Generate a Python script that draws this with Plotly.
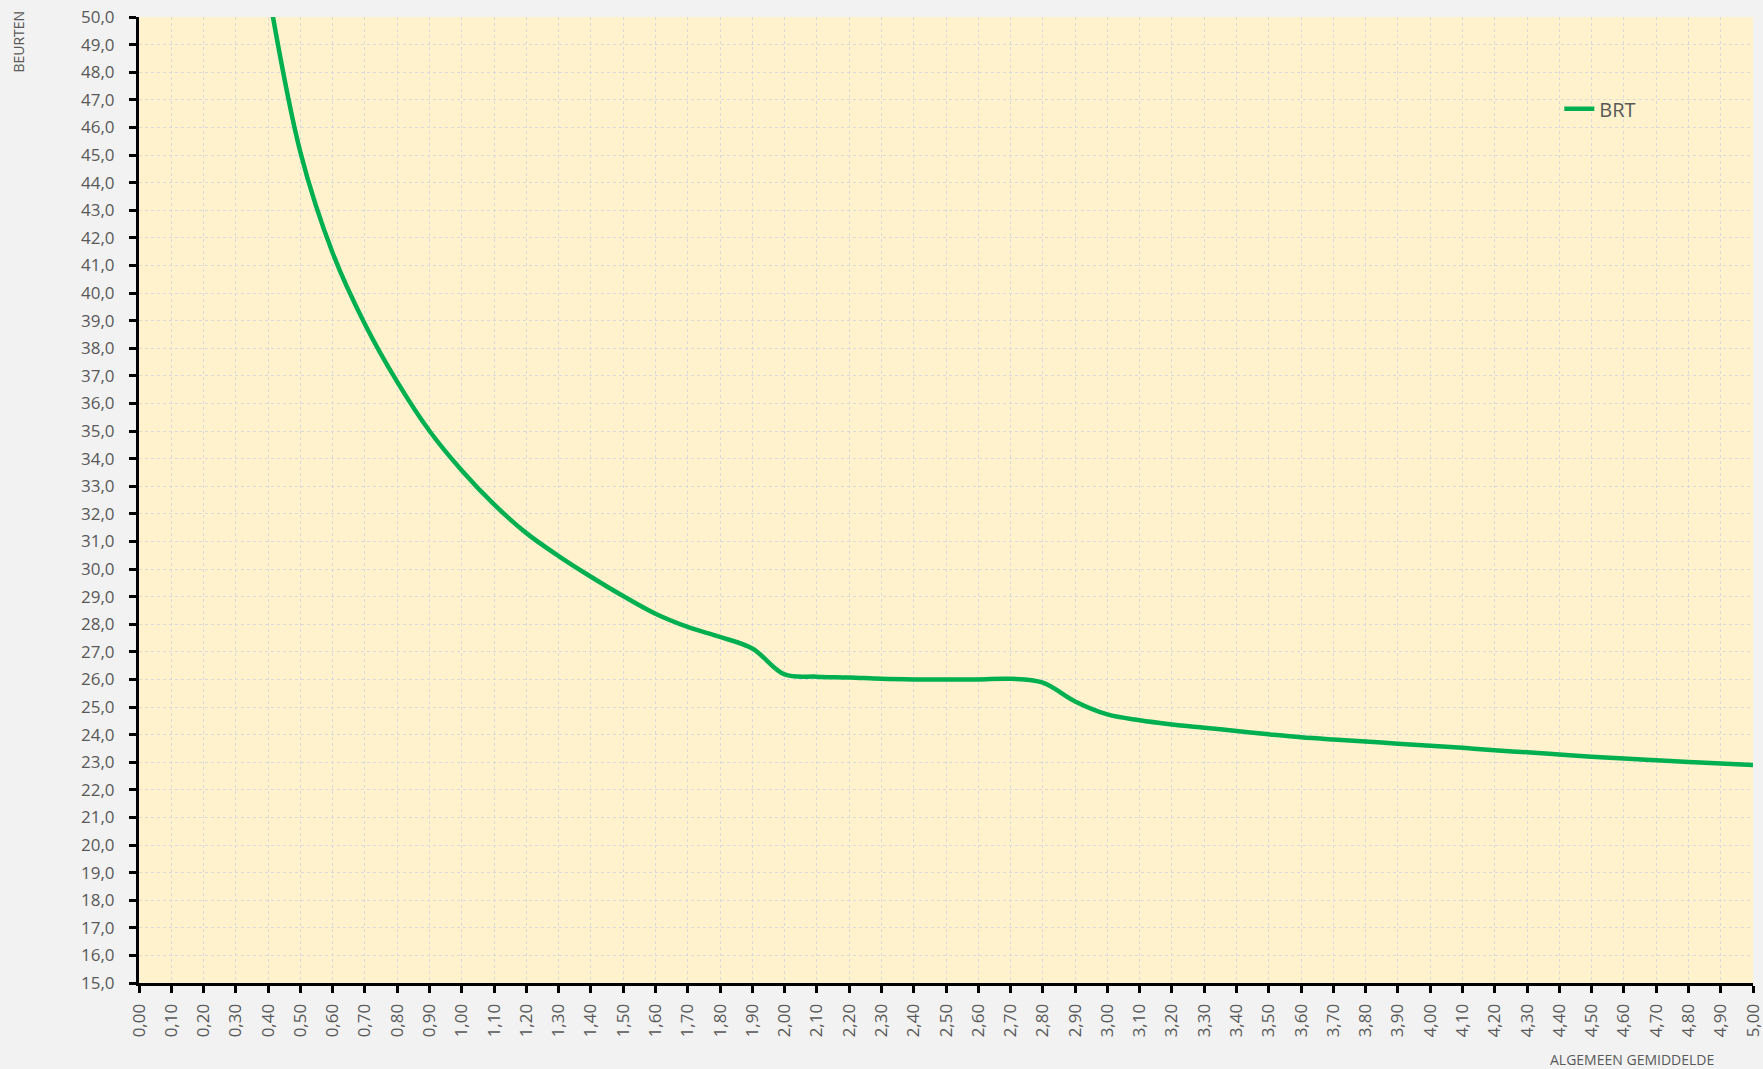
import plotly.graph_objects as go

x_vals = [0.40, 0.50, 0.60, 0.70, 0.80, 0.90, 1.00, 1.10, 1.20, 1.30, 1.40, 1.50,
          1.60, 1.70, 1.80, 1.90, 2.00, 2.10, 2.20, 2.30, 2.40, 2.50, 2.60, 2.70,
          2.80, 2.90, 3.00, 3.10, 3.20, 3.30, 3.40, 3.50, 3.60, 3.70, 3.80, 3.90,
          4.00, 4.10, 4.20, 4.30, 4.40, 4.50, 4.60, 4.70, 4.80, 4.90, 5.00]
brt = [51.0, 45.1, 41.45, 38.87, 36.78, 35.0, 33.57, 32.34, 31.3, 30.47, 29.72, 29.02,
       28.38, 27.9, 27.54, 27.12, 26.18, 26.1, 26.07, 26.02, 26.0, 26.0, 26.0, 26.02,
       25.88, 25.2, 24.73, 24.52, 24.37, 24.25, 24.13, 24.01, 23.9, 23.82, 23.75, 23.67,
       23.6, 23.52, 23.43, 23.36, 23.28, 23.2, 23.13, 23.07, 23.01, 22.95, 22.9]

series_name = "BRT"
y_title = "BEURTEN"
x_title = "ALGEMEEN GEMIDDELDE"

font_color = "#595959"
font_family = "Open Sans"

fig = go.Figure()
fig.add_trace(go.Scatter(
    x=x_vals, y=brt, mode="lines", name=series_name,
    line=dict(color="#00B050", width=4.5, shape="spline", smoothing=1.0),
))

axis_common = dict(showline=True, linecolor="black", linewidth=3,
                   tickcolor="black", tickwidth=3, ticklen=7, zeroline=False,
                   automargin=False)

fig.update_layout(
    width=1763, height=1069,
    margin=dict(l=139, r=10, t=17, b=86),
    paper_bgcolor="#F2F2F2",
    plot_bgcolor="#FFF2CC",
    separators=",.",
    font=dict(family=font_family, color=font_color),
    xaxis=dict(range=[0, 5], dtick=0.1, tick0=0, tickformat=".2f", tickangle=-90,
               ticks="outside", showgrid=True, gridcolor="#D9D9D9", gridwidth=1,
               griddash="3px,3px", tickfont=dict(size=17, color=font_color),
               ticklabelstandoff=4, ticklabeloverflow="allow", **axis_common),
    yaxis=dict(range=[15, 50], dtick=1, tick0=15, tickformat=".1f",
               ticks="outside", showgrid=True, gridcolor="#D9D9D9", gridwidth=1,
               griddash="3px,3px", tickfont=dict(size=17, color=font_color),
               ticklabelstandoff=11, ticklabeloverflow="allow", **axis_common),
    xaxis2=dict(range=[0, 5], dtick=0.1, tick0=0, overlaying="x", anchor="y2",
                ticks="inside", showticklabels=False, showgrid=False, **axis_common),
    yaxis2=dict(range=[15, 50], dtick=1, tick0=15, overlaying="y", anchor="x2",
                ticks="inside", showticklabels=False, showgrid=False, **axis_common),
    showlegend=True,
    legend=dict(x=0.880, y=0.905, xanchor="left", yanchor="middle",
                bgcolor="rgba(0,0,0,0)", font=dict(size=20, color=font_color)),
    annotations=[
        dict(text=y_title, x=-0.0746, y=1.0083, xref="paper", yref="paper",
             xanchor="center", yanchor="top", textangle=-90, showarrow=False,
             font=dict(size=14, color=font_color)),
        dict(text=x_title, x=0.925, y=-0.079, xref="paper", yref="paper",
             xanchor="center", yanchor="middle", showarrow=False,
             font=dict(size=14, color=font_color)),
    ],
)

fig.write_html(
    "out.html",
    config={"displayModeBar": False},
    post_script="document.body.style.margin='0px';document.body.style.background='#F2F2F2';",
)
